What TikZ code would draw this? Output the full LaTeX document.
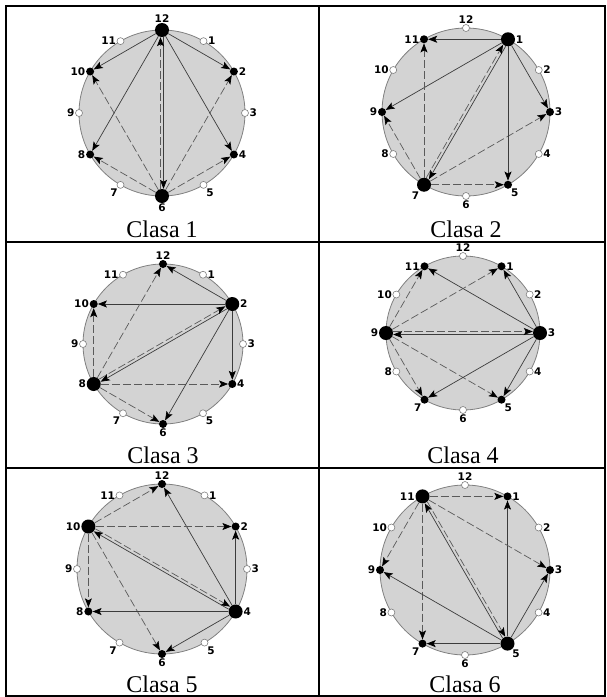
\documentclass[tikz,border=0pt]{standalone}
\usepackage{fontspec}
\setmainfont{Liberation Serif}
\newfontfamily\hourfont{DejaVu Sans}
\usetikzlibrary{arrows.meta,calc}

\definecolor{dialfill}{RGB}{211,211,211}
\definecolor{dialedge}{RGB}{128,128,128}
\definecolor{solgray}{RGB}{60,60,60}
\definecolor{dashgray}{RGB}{90,90,90}

\tikzset{
    dial/.style={draw=dialedge, fill=dialfill, line width=0.8pt},
    hollow/.style={circle, draw=dialedge, fill=white, line width=0.6pt, inner sep=0pt, minimum size=7pt},
    dot/.style={circle, fill=black, inner sep=0pt, minimum size=8pt},
    hub/.style={circle, fill=black, inner sep=0pt, minimum size=14pt},
    hour/.style={font=\hourfont\bfseries\fontsize{10.5}{11}\selectfont, inner sep=0.5pt, label distance=0pt},
    soldir/.style={->, draw=solgray, line width=0.7pt},
    dashdir/.style={->, draw=dashgray, line width=0.7pt, dash pattern=on 8pt off 3pt},
    caption/.style={font=\fontsize{24}{24}\selectfont, anchor=base, inner sep=0pt}
}

\begin{document}
\begin{tikzpicture}[
    x=1pt, y=1pt,
    >={Stealth[length=9pt,width=7pt,inset=2pt,color=black]}
]
\useasboundingbox (0,0) rectangle (606,-697);

% Table frame
\draw[line width=2pt] (6,-6) rectangle (605,-696);
\draw[line width=2pt] (319,-6) -- (319,-696);
\draw[line width=2pt] (6,-242) -- (605,-242);
\draw[line width=2pt] (6,-468) -- (605,-468);

% One dial per class
\foreach \k/\cx/\cy/\r/\by in {1/162/113/83/237, 2/466/112/84/237,
                               3/163/344/80/463, 4/463/333/77/463,
                               5/162/569/85/692, 6/465/570/85/692}{
    \coordinate (c\k) at (\cx,-\cy);
    \draw[dial] (c\k) circle (\r);
    \node[caption] (cap\k) at (\cx,-\by) {Clasa \k};

    % Twelve hour points
    \foreach \h/\la in {1/0, 2/0, 3/0, 4/0, 5/-55, 6/-90, 7/-125,
                        8/180, 9/180, 10/180, 11/180, 12/90}{
        \pgfmathtruncatemacro\d{mod(\h-\k+13,12)}
        \ifnum\d=0 \def\kind{hub}\else
        \ifnum\d=6 \def\kind{hub}\else
        \ifodd\d \def\kind{hollow}\else \def\kind{dot}\fi\fi\fi
        \node[\kind, label={[hour, name=n\k-\h]\la:\h}] (p\k-\h)
            at ($(c\k)+(90-30*\h:\r)$) {};
    }

    % Solid source and dashed source
    \pgfmathtruncatemacro\s{mod(\k+10,12)+1}
    \pgfmathtruncatemacro\t{mod(\k+4,12)+1}
    \pgfmathsetmacro\a{90-30*\s}
    \foreach \o in {2,4,8,10}{
        \pgfmathtruncatemacro\tg{mod(\s+\o-1,12)+1}
        \draw[soldir] (p\k-\s) -- (p\k-\tg);
        \draw[dashdir] (p\k-\t) -- (p\k-\tg);
    }
    % Pair of opposite arrows across the dial
    \draw[soldir, transform canvas={shift={(\a-90:1.5pt)}}] (p\k-\s) -- (p\k-\t);
    \draw[dashdir, transform canvas={shift={(\a+90:1.5pt)}}] (p\k-\t) -- (p\k-\s);
}

\end{tikzpicture}
\end{document}
